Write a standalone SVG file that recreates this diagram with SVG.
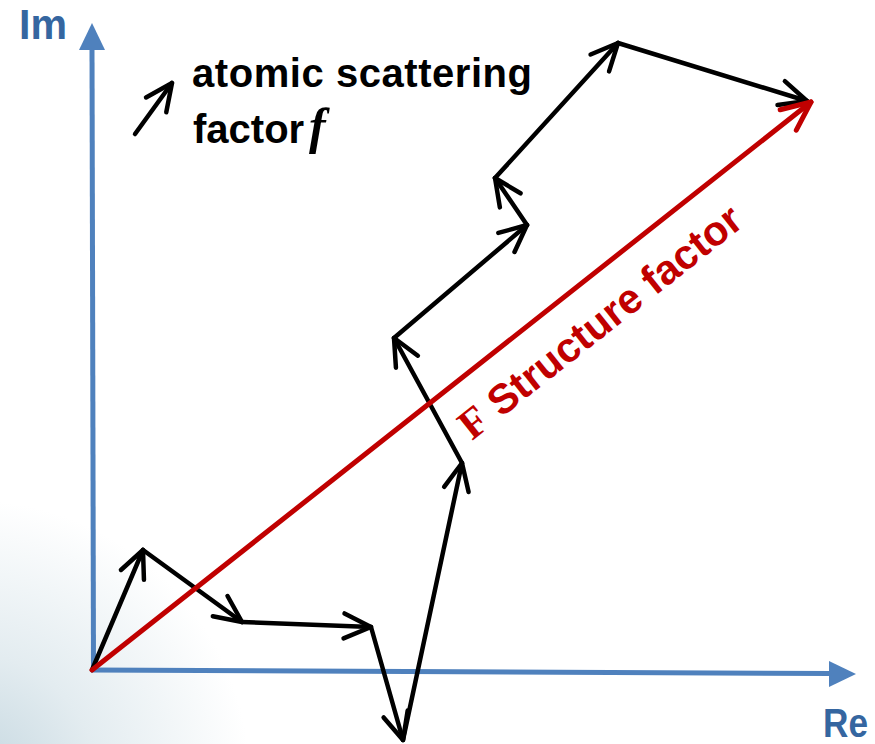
<svg xmlns="http://www.w3.org/2000/svg" width="875" height="744" viewBox="0 0 875 744">
  <defs>
    <radialGradient id="bg" cx="-30" cy="780" r="280" gradientUnits="userSpaceOnUse">
      <stop offset="0" stop-color="#c3d6df"/>
      <stop offset="0.45" stop-color="#e3ecf0"/>
      <stop offset="1" stop-color="#ffffff"/>
    </radialGradient>
    <marker id="ah" markerUnits="userSpaceOnUse" orient="auto" viewBox="-34 -18 40 36" markerWidth="40" markerHeight="36" refX="0" refY="0" overflow="visible">
      <path d="M-27,-12.5 L0,0 L-27,12.5" fill="none" stroke="#000" stroke-width="4.5" stroke-linecap="round" stroke-linejoin="round"/>
    </marker>
    <marker id="ahr" markerUnits="userSpaceOnUse" orient="auto" viewBox="-34 -18 40 36" markerWidth="40" markerHeight="36" refX="0" refY="0" overflow="visible">
      <path d="M-29,-13 L0,0 L-29,13" fill="none" stroke="#c00000" stroke-width="5" stroke-linecap="round" stroke-linejoin="round"/>
    </marker>
    <style>
      .axis { stroke: #4f81bd; stroke-width: 5; fill: none; }
      .axhead { fill: #4f81bd; }
      .axlabel { font-family: "Liberation Sans", Arial, sans-serif; font-weight: bold; fill: #3566a0; }
      .vec { stroke: #000; stroke-width: 4.5; stroke-linecap: round; fill: none; marker-end: url(#ah); }
      .red { stroke: #c00000; stroke-width: 5; stroke-linecap: round; fill: none; marker-end: url(#ahr); }
      .lbl { font-family: "Liberation Sans", Arial, sans-serif; font-weight: bold; font-size: 40px; fill: #000; }
    </style>
  </defs>
  <rect x="0" y="0" width="875" height="744" fill="url(#bg)"/>

  <g id="axes">
    <line class="axis" x1="93.5" y1="672" x2="92" y2="48"/>
    <polygon class="axhead" points="92,23 79,50 105,50"/>
    <line class="axis" x1="91" y1="670" x2="831" y2="673.5"/>
    <polygon class="axhead" points="856,674 829,661 829,687"/>
    <text id="im-label" class="axlabel" x="19" y="39" font-size="42" textLength="48" lengthAdjust="spacingAndGlyphs">Im</text>
    <text id="re-label" class="axlabel" x="823" y="737" font-size="40" textLength="45" lengthAdjust="spacingAndGlyphs">Re</text>
  </g>

  <g id="legend">
    <line class="vec" x1="135" y1="134" x2="172" y2="83"/>
    <text class="lbl" x="192" y="87" textLength="340">atomic scattering</text>
    <text class="lbl" x="193" y="143">factor</text>
    <text x="309" y="143" font-family="'Liberation Serif', 'Times New Roman', serif" font-style="italic" font-weight="bold" font-size="50" fill="#000">f</text>
  </g>

  <g id="connectors">
    <line class="vec" x1="92" y1="670" x2="143" y2="550"/>
    <line class="vec" x1="143" y1="550" x2="242" y2="622"/>
    <line class="vec" x1="242" y1="622" x2="371" y2="627"/>
    <line class="vec" x1="371" y1="627" x2="403" y2="740"/>
    <line class="vec" x1="403" y1="740" x2="462" y2="463"/>
    <line class="vec" x1="462" y1="463" x2="394" y2="338"/>
    <line class="vec" x1="394" y1="338" x2="527" y2="225"/>
    <line class="vec" x1="527" y1="225" x2="495" y2="178"/>
    <line class="vec" x1="495" y1="178" x2="618" y2="43"/>
    <line class="vec" x1="618" y1="43" x2="807" y2="101"/>
    <line class="red" x1="92" y1="670" x2="811" y2="102"/>
  </g>

  <g id="structure-label">
    <text transform="translate(472,441) rotate(-38.35)" font-family="'Liberation Sans', Arial, sans-serif" font-weight="bold" font-size="41.5" fill="#c00000"><tspan font-family="'Liberation Serif', 'Times New Roman', serif" font-size="42">F</tspan> Structure factor</text>
  </g>
</svg>
